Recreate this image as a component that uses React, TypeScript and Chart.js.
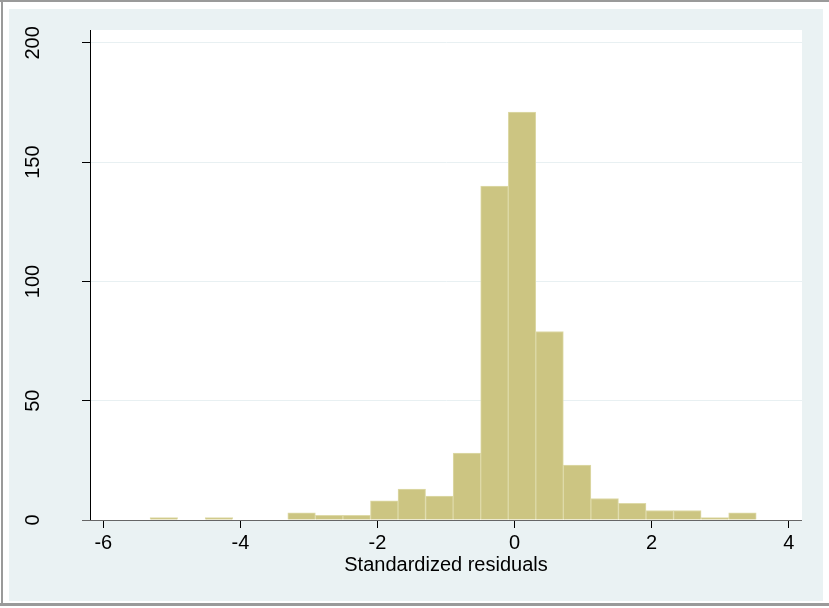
import React, { useEffect, useRef } from "react";
import { Chart, registerables } from "chart.js";

Chart.register(...registerables);

// Histogram bins (centres) and frequencies
const binCenters = [
  -5.117, -4.715, -4.313, -3.911, -3.509, -3.107, -2.705, -2.303, -1.901, -1.499, -1.097,
  -0.695, -0.293, 0.109, 0.511, 0.913, 1.315, 1.717, 2.119, 2.521, 2.923, 3.325,
];
const counts = [1, 0, 1, 0, 0, 3, 2, 2, 8, 13, 10, 28, 140, 171, 79, 23, 9, 7, 4, 4, 1, 3];

const xTickValues = [-6, -4, -2, 0, 2, 4];
const yTickValues = [0, 50, 100, 150, 200];
const xTitle = "Standardized residuals";

const X_MIN = -6.194;
const X_MAX = 4.194;
const Y_MIN = 0;
const Y_MAX = 205.4;

const FONT = '"Liberation Sans", Arial, Helvetica, sans-serif';

export default function App() {
  const ref = useRef<HTMLCanvasElement>(null);

  useEffect(() => {
    const canvas = ref.current;
    if (!canvas) return;

    const framePlugin = {
      id: "stataFrame",
      beforeDraw(chart: any) {
        const { ctx, chartArea: a } = chart;
        const W = chart.width;
        const H = chart.height;
        ctx.save();
        ctx.fillStyle = "#ffffff";
        ctx.fillRect(0, 0, W, H);
        ctx.fillStyle = "#eaf2f3";
        ctx.fillRect(9, 9, W - 15, H - 16);
        ctx.fillStyle = "#9a9a9a";
        ctx.fillRect(0, 0, W, 2);
        ctx.fillRect(1, 0, 2, H - 2);
        ctx.fillRect(0, H - 5, W, 3);
        ctx.fillStyle = "#ffffff";
        ctx.fillRect(a.left, a.top, a.right - a.left, a.bottom - a.top);
        ctx.restore();
      },
      afterDraw(chart: any) {
        const { ctx, chartArea: a } = chart;
        const ys = chart.scales.y;
        ctx.save();
        // x axis line (extends under the y tick marks)
        ctx.strokeStyle = "#666666";
        ctx.lineWidth = 1;
        ctx.beginPath();
        ctx.moveTo(a.left - 8, a.bottom + 0.5);
        ctx.lineTo(a.right, a.bottom + 0.5);
        ctx.stroke();
        // rotated y tick labels
        ctx.fillStyle = "#000000";
        ctx.font = `20px ${FONT}`;
        ctx.textAlign = "center";
        ctx.textBaseline = "middle";
        ys.ticks.forEach((t: any) => {
          const py = ys.getPixelForValue(t.value);
          ctx.save();
          ctx.translate(33, py);
          ctx.rotate(-Math.PI / 2);
          ctx.fillText(String(t.value), 0, 0);
          ctx.restore();
        });
        // x axis title
        ctx.font = `20px ${FONT}`;
        ctx.textAlign = "center";
        ctx.textBaseline = "alphabetic";
        ctx.fillText(xTitle, (a.left + a.right) / 2, 571);
        ctx.restore();
      },
    };

    const chart = new Chart(canvas, {
      type: "bar",
      data: {
        datasets: [
          {
            data: binCenters.map((x, i) => ({ x, y: counts[i] })),
            backgroundColor: "#ccc582",
            borderColor: "#dedaa8",
            borderWidth: 1,
            barPercentage: 1,
            categoryPercentage: 1,
          },
        ],
      },
      options: {
        responsive: false,
        animation: false,
        events: [],
        layout: { padding: { left: 0, right: 27, top: 30, bottom: 0 } },
        plugins: {
          legend: { display: false },
          tooltip: { enabled: false },
          title: { display: false },
        },
        scales: {
          x: {
            type: "linear",
            min: X_MIN,
            max: X_MAX,
            offset: false,
            afterFit(scale: any) {
              scale.height = 88;
            },
            afterBuildTicks(scale: any) {
              scale.ticks = xTickValues.map((v) => ({ value: v }));
            },
            ticks: {
              includeBounds: false,
              color: "#000000",
              padding: 3,
              maxRotation: 0,
              minRotation: 0,
              font: { family: FONT, size: 20 },
              callback: (v: any) => String(v),
            },
            grid: {
              display: true,
              offset: false,
              drawOnChartArea: false,
              drawTicks: true,
              tickLength: 8,
              tickColor: "#000000",
            },
            border: { display: false },
          },
          y: {
            type: "linear",
            min: Y_MIN,
            max: Y_MAX,
            afterFit(scale: any) {
              scale.width = 90;
            },
            afterBuildTicks(scale: any) {
              scale.ticks = yTickValues.map((v) => ({ value: v }));
            },
            ticks: { display: false, includeBounds: false },
            grid: {
              display: true,
              color: (c: any) => (c.tick && c.tick.value === 0 ? "rgba(0,0,0,0)" : "#e8f0f2"),
              lineWidth: 1,
              drawTicks: true,
              tickLength: 8,
              tickColor: "#000000",
            },
            border: { display: true, color: "#000000", width: 1 },
          },
        },
      },
      plugins: [framePlugin],
    });

    return () => chart.destroy();
  }, []);

  return (
    <div style={{ position: "absolute", left: 0, top: 0, width: 829, height: 608 }}>
      <canvas ref={ref} width={829} height={608} style={{ width: 829, height: 608, display: "block" }} />
    </div>
  );
}
